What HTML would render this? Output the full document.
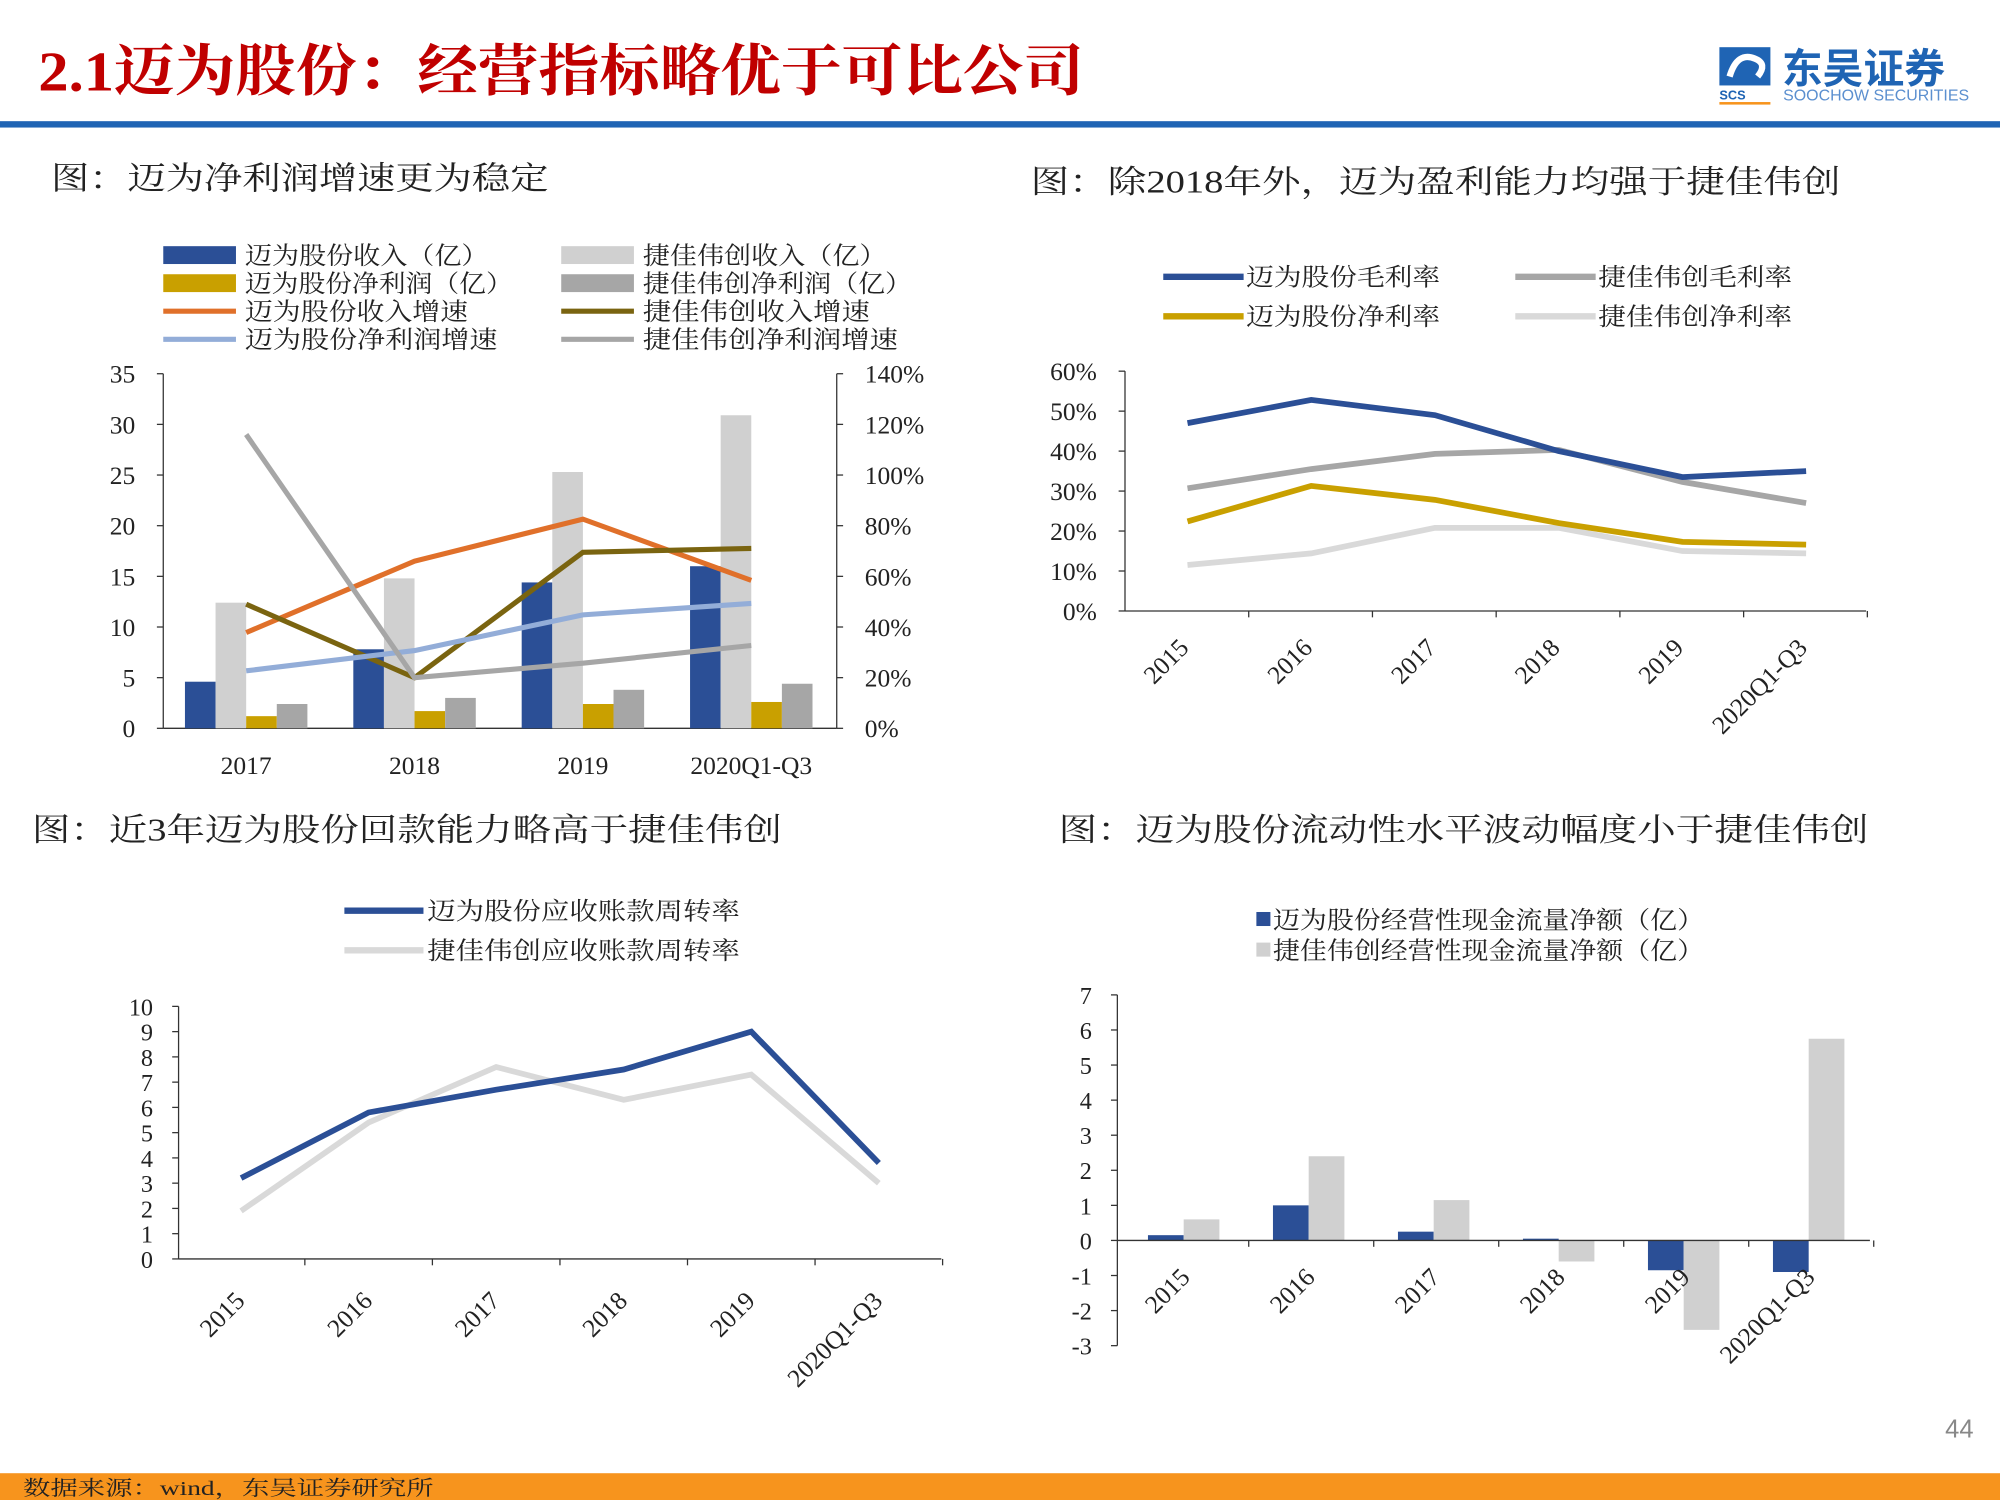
<!DOCTYPE html>
<html><head><meta charset="utf-8">
<style>
html,body{margin:0;padding:0;background:#fff;}
svg{display:block;}
text{font-family:"Liberation Serif","Noto Serif CJK SC",serif;fill:#222;}
</style></head>
<body>
<svg id="s" width="2000" height="1500" viewBox="0 0 1568 1176" xmlns="http://www.w3.org/2000/svg">
<rect x="0" y="0" width="1568" height="1176" fill="#fff"/>
<text x="30" y="71" font-size="44" font-weight="bold" textLength="820" lengthAdjust="spacingAndGlyphs" style="fill:#c00000">2.1迈为股份：经营指标略优于可比公司</text>
<g>
<rect x="1348" y="37" width="40" height="30" fill="#1f64b4"/>
<path d="M1356 60 q6 -20 20 -14 q10 4 2 14" stroke="#fff" stroke-width="5" fill="none"/>
<text x="1348" y="78" font-size="10" font-weight="bold" style="fill:#1f64b4;font-family:'Liberation Sans',sans-serif">SCS</text>
<rect x="1348" y="80" width="40" height="2" fill="#f7941d"/>
<text x="1397" y="65" font-size="32" font-weight="bold" style="fill:#1f64b4;font-family:'Liberation Sans','Noto Sans CJK SC',sans-serif">东吴证券</text>
<text x="1398" y="79" font-size="12.5" style="fill:#5b8fcf;font-family:'Liberation Sans',sans-serif">SOOCHOW SECURITIES</text>
</g>
<rect x="0" y="95" width="1568" height="5" fill="#1f64b4"/>
<rect x="0" y="1155" width="1568" height="21" fill="#f7941d"/>
<text x="18" y="1172" font-size="16" textLength="322" lengthAdjust="spacingAndGlyphs">数据来源：wind，东吴证券研究所</text>
<text x="1525" y="1127" font-size="20" style="fill:#888;font-family:'Liberation Sans',sans-serif">44</text>
<text x="40" y="148" font-size="25" textLength="390" lengthAdjust="spacingAndGlyphs">图：迈为净利润增速更为稳定</text>
<text x="808" y="151" font-size="25" textLength="635" lengthAdjust="spacingAndGlyphs">图：除2018年外，迈为盈利能力均强于捷佳伟创</text>
<text x="25" y="659" font-size="25" textLength="588" lengthAdjust="spacingAndGlyphs">图：近3年迈为股份回款能力略高于捷佳伟创</text>
<text x="830" y="659" font-size="25" textLength="635" lengthAdjust="spacingAndGlyphs">图：迈为股份流动性水平波动幅度小于捷佳伟创</text>
<g id="g"></g>
</svg>
<script>
// ---- Chart 1 data ----
const c1Cats=["2017","2018","2019","2020Q1-Q3"];
const c1MwRev=[4.6,7.8,14.4,16.0];
const c1JjRev=[12.4,14.8,25.3,30.9];
const c1MwProfit=[1.2,1.7,2.4,2.6];
const c1JjProfit=[2.4,3.0,3.8,4.4];
const c1MwRevG=[37.8,66,82.6,58.4];
const c1JjRevG=[49,20,69.5,71];
const c1MwProfitG=[22.7,30.7,44.8,49.3];
const c1JjProfitG=[116,20,25.7,32.7];
const c1LeftTicks=[0,5,10,15,20,25,30,35];
const c1RightTicks=["0%","20%","40%","60%","80%","100%","120%","140%"];
// ---- Chart 2 data ----
const c2Cats=["2015","2016","2017","2018","2019","2020Q1-Q3"];
const c2MwGross=[47,52.8,49,40,33.5,35];
const c2JjGross=[30.7,35.5,39.3,40.3,32.3,27];
const c2MwNet=[22.4,31.3,27.8,22,17.3,16.6];
const c2JjNet=[11.5,14.4,20.8,20.8,15,14.4];
const c2Ticks=["0%","10%","20%","30%","40%","50%","60%"];
// ---- Chart 3 data ----
const c3Cats=["2015","2016","2017","2018","2019","2020Q1-Q3"];
const c3Mw=[3.2,5.8,6.7,7.5,9.0,3.8];
const c3Jj=[1.9,5.4,7.6,6.3,7.3,3.0];
const c3Ticks=[0,1,2,3,4,5,6,7,8,9,10];
// ---- Chart 4 data ----
const c4Cats=["2015","2016","2017","2018","2019","2020Q1-Q3"];
const c4Mw=[0.15,1.0,0.25,0.05,-0.85,-0.9];
const c4Jj=[0.6,2.4,1.15,-0.6,-2.55,5.75];
const c4Ticks=[-3,-2,-1,0,1,2,3,4,5,6,7];

const NS="http://www.w3.org/2000/svg";
const G=document.getElementById('g');
function mk(tag,a,txt){const e=document.createElementNS(NS,tag);for(const k in a)e.setAttribute(k,a[k]);if(txt!==undefined)e.textContent=txt;G.appendChild(e);return e;}
function pts(xs,ys){return xs.map((x,i)=>x+','+ys[i]).join(' ');}

// ===== Chart 1 =====
{
const L=128,R=656,T=293,B=571;
const yl=v=>B-(v/35)*(B-T);
const yr=v=>B-(v/140)*(B-T);
const cx=i=>193+i*132;
let e;
e=mk('line',{x1:L,y1:T,x2:L,y2:B,stroke:'#333'});


e=mk('line',{x1:R,y1:T,x2:R,y2:B,stroke:'#333'});


e=mk('line',{x1:L,y1:B,x2:R,y2:B,stroke:'#333'});


c1LeftTicks.forEach(v=>{
 e=mk('text',{x:L-22,y:yl(v)+7,'font-size':20,'text-anchor':'end'},String(v));
 
 
 mk('line',{x1:L-5,y1:yl(v),x2:L,y2:yl(v),stroke:'#333'});
});
c1RightTicks.forEach((t,i)=>{
 e=mk('text',{x:R+22,y:yr(i*20)+7,'font-size':20},t);
 
 
 mk('line',{x1:R,y1:yr(i*20),x2:R+5,y2:yr(i*20),stroke:'#333'});
});
const series=[[c1MwRev,'#2b4f96',-48],[c1JjRev,'#d0d0d0',-24],[c1MwProfit,'#c9a000',0],[c1JjProfit,'#a6a6a6',24]];
c1Cats.forEach((c,i)=>{
 e=mk('text',{x:cx(i),y:607,'font-size':20,'text-anchor':'middle'},c);
 
 
 series.forEach(s=>{
  e=mk('rect',{x:cx(i)+s[2],y:yl(s[0][i]),width:24,height:B-yl(s[0][i]),fill:s[1]});
  
  
 });
});
const xs=c1Cats.map((c,i)=>cx(i));
[[c1MwRevG,'#e0702a'],[c1JjRevG,'#7a6410'],[c1MwProfitG,'#93add8'],[c1JjProfitG,'#a6a6a6']].forEach(s=>{
 e=mk('polyline',{points:pts(xs,s[0].map(yr)),fill:'none',stroke:s[1],'stroke-width':4});
 
 
});
const leg=[['迈为股份收入（亿）','#2b4f96',128,200,'rect',191],['捷佳伟创收入（亿）','#d0d0d0',440,200,'rect',191],
['迈为股份净利润（亿）','#c9a000',128,222,'rect',210],['捷佳伟创净利润（亿）','#a6a6a6',440,222,'rect',211],
['迈为股份收入增速','#e0702a',128,244,'line',175],['捷佳伟创收入增速','#7a6410',440,244,'line',178],
['迈为股份净利润增速','#93add8',128,266,'line',198],['捷佳伟创净利润增速','#a6a6a6',440,266,'line',200]];
leg.forEach(l=>{
 if(l[4]==='rect') mk('rect',{x:l[2],y:l[3]-7,width:57,height:14,fill:l[1]});
 else mk('line',{x1:l[2],y1:l[3],x2:l[2]+57,y2:l[3],stroke:l[1],'stroke-width':4});
 e=mk('text',{x:l[2]+64,y:l[3]+7,'font-size':19,textLength:l[5],lengthAdjust:'spacingAndGlyphs'},l[0]);
 
 
});
}

// ===== Chart 2 =====
{
const L=882,R=1463,T=291,B=479;
const y=v=>B-(v/60)*(B-T);
const cx=i=>931+i*97;
let e;
e=mk('line',{x1:L,y1:T,x2:L,y2:B,stroke:'#333'});


e=mk('line',{x1:L,y1:B,x2:R,y2:B,stroke:'#333'});


c2Ticks.forEach((t,i)=>{
 e=mk('text',{x:L-22,y:y(i*10)+7,'font-size':20,'text-anchor':'end'},t);
 
 
 mk('line',{x1:L-5,y1:y(i*10),x2:L,y2:y(i*10),stroke:'#333'});
});
c2Cats.forEach((c,i)=>{
 mk('line',{x1:cx(i)+48,y1:B,x2:cx(i)+48,y2:B+5,stroke:'#333'});
 e=mk('text',{x:0,y:0,'font-size':20,'text-anchor':'end',transform:`translate(${cx(i)+2},${B+30}) rotate(-45)`},c);
 
 
});
const xs=c2Cats.map((c,i)=>cx(i));
[[c2JjNet,'#d9d9d9'],[c2JjGross,'#a6a6a6'],[c2MwNet,'#c9a000'],[c2MwGross,'#2b4f96']].forEach(s=>{
 e=mk('polyline',{points:pts(xs,s[0].map(y)),fill:'none',stroke:s[1],'stroke-width':4.5});
 
 
});
[['迈为股份毛利率','#2b4f96',912,217],['捷佳伟创毛利率','#a6a6a6',1188,217],['迈为股份净利率','#c9a000',912,248],['捷佳伟创净利率','#d9d9d9',1188,248]].forEach(l=>{
 mk('line',{x1:l[2],y1:l[3],x2:l[2]+63,y2:l[3],stroke:l[1],'stroke-width':5});
 e=mk('text',{x:l[2]+65,y:l[3]+7,'font-size':19,textLength:152,lengthAdjust:'spacingAndGlyphs'},l[0]);
 
 
});
}

// ===== Chart 3 =====
{
const L=140,R=738,T=789,B=987;
const y=v=>B-(v/10)*(B-T);
const cx=i=>189+i*100;
let e;
e=mk('line',{x1:L,y1:T,x2:L,y2:B,stroke:'#333'});


e=mk('line',{x1:L,y1:B,x2:R,y2:B,stroke:'#333'});


c3Ticks.forEach(v=>{
 e=mk('text',{x:L-20,y:y(v)+7,'font-size':19,'text-anchor':'end'},String(v));
 
 
 mk('line',{x1:L-5,y1:y(v),x2:L,y2:y(v),stroke:'#333'});
});
c3Cats.forEach((c,i)=>{
 mk('line',{x1:cx(i)+50,y1:B,x2:cx(i)+50,y2:B+5,stroke:'#333'});
 e=mk('text',{x:0,y:0,'font-size':20,'text-anchor':'end',transform:`translate(${cx(i)+4},${B+34}) rotate(-45)`},c);
 
 
});
const xs=c3Cats.map((c,i)=>cx(i));
[[c3Jj,'#d9d9d9'],[c3Mw,'#2b4f96']].forEach(s=>{
 e=mk('polyline',{points:pts(xs,s[0].map(y)),fill:'none',stroke:s[1],'stroke-width':4.5});
 
 
});
[['迈为股份应收账款周转率','#2b4f96',270,714],['捷佳伟创应收账款周转率','#d9d9d9',270,745]].forEach(l=>{
 mk('line',{x1:l[2],y1:l[3],x2:l[2]+62,y2:l[3],stroke:l[1],'stroke-width':5});
 e=mk('text',{x:l[2]+65,y:l[3]+7,'font-size':19,textLength:245,lengthAdjust:'spacingAndGlyphs'},l[0]);
 
 
});
}

// ===== Chart 4 =====
{
const L=876,R=1466,T=780,B=1055;
const y=v=>B-((v+3)/10)*(B-T);
const cx=i=>930+i*98;
let e;
e=mk('line',{x1:L,y1:T,x2:L,y2:B,stroke:'#333'});


c4Ticks.forEach(v=>{
 e=mk('text',{x:L-20,y:y(v)+7,'font-size':19,'text-anchor':'end'},String(v));
 
 
 mk('line',{x1:L-5,y1:y(v),x2:L,y2:y(v),stroke:'#333'});
});
c4Cats.forEach((c,i)=>{
 [[c4Mw,'#2b4f96',-30],[c4Jj,'#d0d0d0',-2]].forEach(s=>{
  const v=s[0][i];
  e=mk('rect',{x:cx(i)+s[2],y:Math.min(y(v),y(0)),width:28,height:Math.abs(y(v)-y(0)),fill:s[1]});
  
  
 });
 mk('line',{x1:cx(i)+49,y1:y(0),x2:cx(i)+49,y2:y(0)+5,stroke:'#333'});
 e=mk('text',{x:0,y:0,'font-size':20,'text-anchor':'end',transform:`translate(${cx(i)+4},${y(0)+30}) rotate(-45)`},c);
 
 
});
e=mk('line',{x1:L,y1:y(0),x2:R,y2:y(0),stroke:'#333'});


[['迈为股份经营性现金流量净额（亿）','#2b4f96',985,721],['捷佳伟创经营性现金流量净额（亿）','#d0d0d0',985,745]].forEach(l=>{
 mk('rect',{x:l[2],y:l[3]-6,width:11,height:11,fill:l[1]});
 e=mk('text',{x:l[2]+13,y:l[3]+7,'font-size':19,textLength:338,lengthAdjust:'spacingAndGlyphs'},l[0]);
 
 
});
}
</script>
</body></html>
